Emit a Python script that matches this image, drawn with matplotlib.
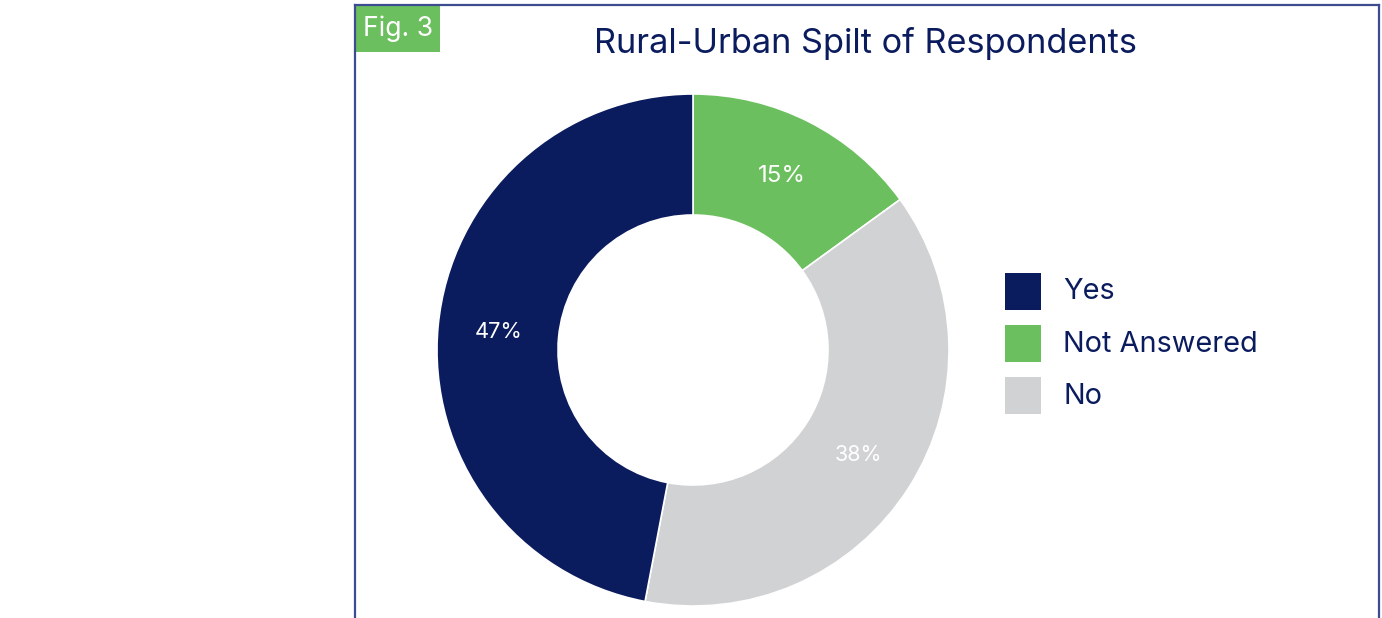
import matplotlib
matplotlib.use("Agg")
import matplotlib.pyplot as plt
from matplotlib.patches import Rectangle
import numpy as np

# Survey answers and their shares (percent)
categories = ["Not Answered", "No", "Yes"]
shares = [15, 38, 47]
legend_order = ["Yes", "Not Answered", "No"]

title = "Rural-Urban Spilt of Respondents"
fig_tag = "Fig. 3"

NAVY = "#0b1c5e"
GREEN = "#6cbf5e"
GREY = "#d1d2d4"
FRAME = "#3d4b8f"
colors = {"Yes": NAVY, "Not Answered": GREEN, "No": GREY}

plt.rcParams["font.family"] = ["Inter", "DejaVu Sans"]

W, H = 1382, 618
fig = plt.figure(figsize=(W / 100, H / 100), dpi=100)
fig.patch.set_facecolor("white")
renderer = fig.canvas.get_renderer()


def fx(px):
    return px / W


def fy(py):
    return 1 - py / H


def fit_width(txt, width_px):
    """Scale a text's font size so that it spans width_px pixels."""
    ext = txt.get_window_extent(renderer=renderer)
    txt.set_fontsize(txt.get_fontsize() * width_px / ext.width)
    return txt


# Outer frame, open at the bottom edge
for xs, ys in [((355, 355), (4.5, 620)), ((355, 1379), (4.5, 4.5)), ((1379, 1379), (4.5, 620))]:
    fig.add_artist(plt.Line2D([fx(x) for x in xs], [fy(y) for y in ys],
                              color=FRAME, lw=1.6, transform=fig.transFigure))

# Figure tag
fig.add_artist(Rectangle((fx(355), fy(52)), fx(440) - fx(355), fy(5) - fy(52),
                         transform=fig.transFigure, facecolor=GREEN, edgecolor="none"))
fit_width(fig.text(fx(398), fy(29), fig_tag, color="white", fontsize=17,
                   ha="center", va="center"), 70)

# Title
fit_width(fig.text(fx(865), fy(44), title, color=NAVY, fontsize=20,
                   ha="center", va="center"), 543)

# Donut
cx, cy, R = 693, 350, 256
ax = fig.add_axes([fx(cx - R), fy(cy + R), 2 * R / W, 2 * R / H])
inner = 135 / 256
wedges, _ = ax.pie(shares, colors=[colors[c] for c in categories], startangle=90,
                   counterclock=False, radius=1,
                   wedgeprops=dict(width=1 - inner, edgecolor="white", linewidth=1.2))
ax.set_xlim(-1, 1)
ax.set_ylim(-1, 1)
ax.set_aspect("equal")
ax.axis("off")

label_r = (1 + inner) / 2
for w, v in zip(wedges, shares):
    ang = np.deg2rad((w.theta1 + w.theta2) / 2)
    t = ax.text(label_r * np.cos(ang), label_r * np.sin(ang), f"{v}%", color="white",
                fontsize=16, ha="center", va="center")
    fit_width(t, 48)

# Legend
for i, name in enumerate(legend_order):
    top = 273 + i * 52
    fig.add_artist(Rectangle((fx(1005), fy(top + 37)), fx(1041) - fx(1005), fy(top) - fy(top + 37),
                             transform=fig.transFigure, facecolor=colors[name], edgecolor="none"))
    t = fig.text(fx(1063), fy(top + 19), name, color=NAVY, fontsize=20, ha="left", va="center")
    if name == "Not Answered":
        fit_width(t, 195)
        legend_size = t.get_fontsize()
for t in fig.texts[-3:]:
    t.set_fontsize(legend_size)

fig.savefig("out.png", dpi=100, facecolor="white")
